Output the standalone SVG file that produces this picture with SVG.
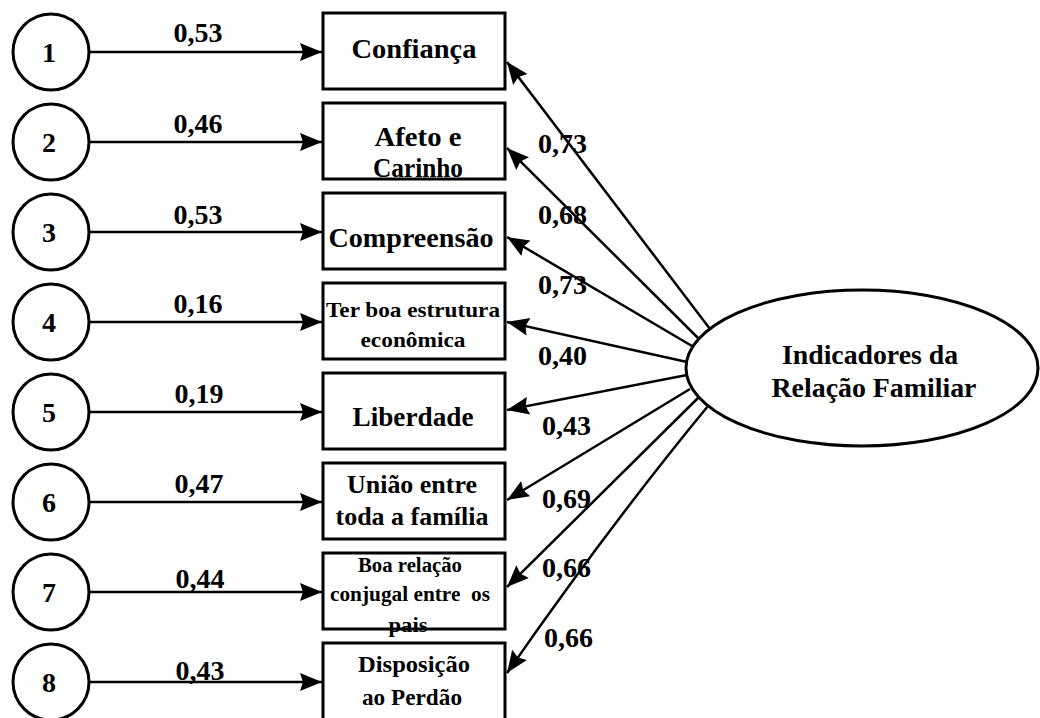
<svg xmlns="http://www.w3.org/2000/svg" width="1040" height="718" viewBox="0 0 1040 718">
<style>
  .bg{fill:#fff}
  .shape{fill:#fff;stroke:#000;stroke-width:3}
  .edge{fill:none;stroke:#000;stroke-width:2.5}
  text{font-family:"Liberation Serif","Times New Roman",serif;font-weight:bold;fill:#000;white-space:pre}
  .num{font-size:28px;text-anchor:middle}
  .lbl{font-size:28px}
  .lblc{font-size:28px;text-anchor:middle}
  .t{text-anchor:middle}
</style>
<defs>
  <marker id="ah" markerUnits="userSpaceOnUse" markerWidth="26" markerHeight="20" refX="22" refY="9" orient="auto">
    <path d="M0,0 L22,9 L0,18 L3,9 Z" fill="#000"/>
  </marker>
</defs>
<rect class="bg" x="0" y="0" width="1040" height="718"/>

<g id="connectors">
  <line class="edge" x1="89" y1="52" x2="322" y2="52" marker-end="url(#ah)"/>
  <line class="edge" x1="89" y1="142" x2="322" y2="142" marker-end="url(#ah)"/>
  <line class="edge" x1="89" y1="232" x2="322" y2="232" marker-end="url(#ah)"/>
  <line class="edge" x1="89" y1="322" x2="322" y2="322" marker-end="url(#ah)"/>
  <line class="edge" x1="89" y1="412" x2="322" y2="412" marker-end="url(#ah)"/>
  <line class="edge" x1="89" y1="502" x2="322" y2="502" marker-end="url(#ah)"/>
  <line class="edge" x1="89" y1="592" x2="322" y2="592" marker-end="url(#ah)"/>
  <line class="edge" x1="89" y1="682" x2="322" y2="682" marker-end="url(#ah)"/>

  <line class="edge" x1="710" y1="329" x2="507" y2="62" marker-end="url(#ah)"/>
  <line class="edge" x1="698" y1="338" x2="507" y2="148" marker-end="url(#ah)"/>
  <line class="edge" x1="692" y1="346" x2="507" y2="237" marker-end="url(#ah)"/>
  <line class="edge" x1="687" y1="362" x2="507" y2="322" marker-end="url(#ah)"/>
  <line class="edge" x1="687" y1="375" x2="507" y2="410" marker-end="url(#ah)"/>
  <line class="edge" x1="690" y1="389" x2="507" y2="500" marker-end="url(#ah)"/>
  <line class="edge" x1="698" y1="398" x2="507" y2="587" marker-end="url(#ah)"/>
  <path class="edge" d="M708,406 Q610,525 507,673" marker-end="url(#ah)"/>

  <text class="lblc" x="198" y="42">0,53</text>
  <text class="lblc" x="198" y="133">0,46</text>
  <text class="lblc" x="198" y="224">0,53</text>
  <text class="lblc" x="198" y="313">0,16</text>
  <text class="lblc" x="199" y="403">0,19</text>
  <text class="lblc" x="199" y="493">0,47</text>
  <text class="lblc" x="200" y="588">0,44</text>
  <text class="lblc" x="200" y="680">0,43</text>

  <text class="lbl" x="538" y="153">0,73</text>
  <text class="lbl" x="538" y="224">0,68</text>
  <text class="lbl" x="538" y="294">0,73</text>
  <text class="lbl" x="538" y="365">0,40</text>
  <text class="lbl" x="542" y="435">0,43</text>
  <text class="lbl" x="542" y="508">0,69</text>
  <text class="lbl" x="542" y="577">0,66</text>
  <text class="lbl" x="544" y="647">0,66</text>
</g>

<g id="e1"><circle class="shape" cx="51" cy="52" r="38"/><text class="num" x="49" y="62">1</text></g>
<g id="e2"><circle class="shape" cx="51" cy="142" r="38"/><text class="num" x="49" y="152">2</text></g>
<g id="e3"><circle class="shape" cx="51" cy="232" r="38"/><text class="num" x="49" y="242">3</text></g>
<g id="e4"><circle class="shape" cx="51" cy="322" r="38"/><text class="num" x="49" y="332">4</text></g>
<g id="e5"><circle class="shape" cx="51" cy="412" r="38"/><text class="num" x="49" y="422">5</text></g>
<g id="e6"><circle class="shape" cx="51" cy="502" r="38"/><text class="num" x="49" y="512">6</text></g>
<g id="e7"><circle class="shape" cx="51" cy="592" r="38"/><text class="num" x="49" y="602">7</text></g>
<g id="e8"><circle class="shape" cx="51" cy="682" r="38"/><text class="num" x="49" y="692">8</text></g>

<g id="v1"><rect class="shape" x="323" y="13" width="182" height="76"/>
  <text class="t" x="414" y="58" font-size="28" textLength="125" lengthAdjust="spacingAndGlyphs">Confiança</text></g>
<g id="v2"><rect class="shape" x="323" y="103" width="182" height="76"/>
  <text class="t" x="418" y="146" font-size="27" textLength="87" lengthAdjust="spacingAndGlyphs">Afeto e</text>
  <text class="t" x="418" y="177" font-size="27" textLength="90" lengthAdjust="spacingAndGlyphs">Carinho</text></g>
<g id="v3"><rect class="shape" x="323" y="193" width="182" height="76"/>
  <text class="t" x="411" y="247" font-size="28" textLength="165" lengthAdjust="spacingAndGlyphs">Compreensão</text></g>
<g id="v4"><rect class="shape" x="323" y="283" width="182" height="76"/>
  <text class="t" x="413" y="317" font-size="21" textLength="174" lengthAdjust="spacingAndGlyphs">Ter boa estrutura</text>
  <text class="t" x="413" y="347" font-size="21" textLength="105" lengthAdjust="spacingAndGlyphs">econômica</text></g>
<g id="v5"><rect class="shape" x="323" y="373" width="182" height="76"/>
  <text class="t" x="413" y="426" font-size="27" textLength="121" lengthAdjust="spacingAndGlyphs">Liberdade</text></g>
<g id="v6"><rect class="shape" x="323" y="463" width="182" height="76"/>
  <text class="t" x="412" y="493" font-size="26" textLength="130" lengthAdjust="spacingAndGlyphs">União entre</text>
  <text class="t" x="412" y="525" font-size="26" textLength="153" lengthAdjust="spacingAndGlyphs">toda a família</text></g>
<g id="v7"><rect class="shape" x="323" y="553" width="182" height="76"/>
  <text class="t" x="410" y="572" font-size="20" textLength="104" lengthAdjust="spacingAndGlyphs">Boa relação</text>
  <text class="t" x="410" y="601" font-size="20" textLength="160" lengthAdjust="spacingAndGlyphs">conjugal entre  os</text>
  <text class="t" x="408" y="632" font-size="20" textLength="39" lengthAdjust="spacingAndGlyphs">pais</text></g>
<g id="v8"><rect class="shape" x="323" y="643" width="182" height="80"/>
  <text class="t" x="414" y="672" font-size="23" textLength="112" lengthAdjust="spacingAndGlyphs">Disposição</text>
  <text class="t" x="412" y="705" font-size="23" textLength="100" lengthAdjust="spacingAndGlyphs">ao Perdão</text></g>

<g id="latent"><ellipse class="shape" cx="862" cy="368" rx="176" ry="78"/>
  <text class="t" x="870" y="364" font-size="28" textLength="176" lengthAdjust="spacingAndGlyphs">Indicadores da</text>
  <text class="t" x="874" y="397" font-size="28" textLength="205" lengthAdjust="spacingAndGlyphs">Relação Familiar</text></g>
</svg>
